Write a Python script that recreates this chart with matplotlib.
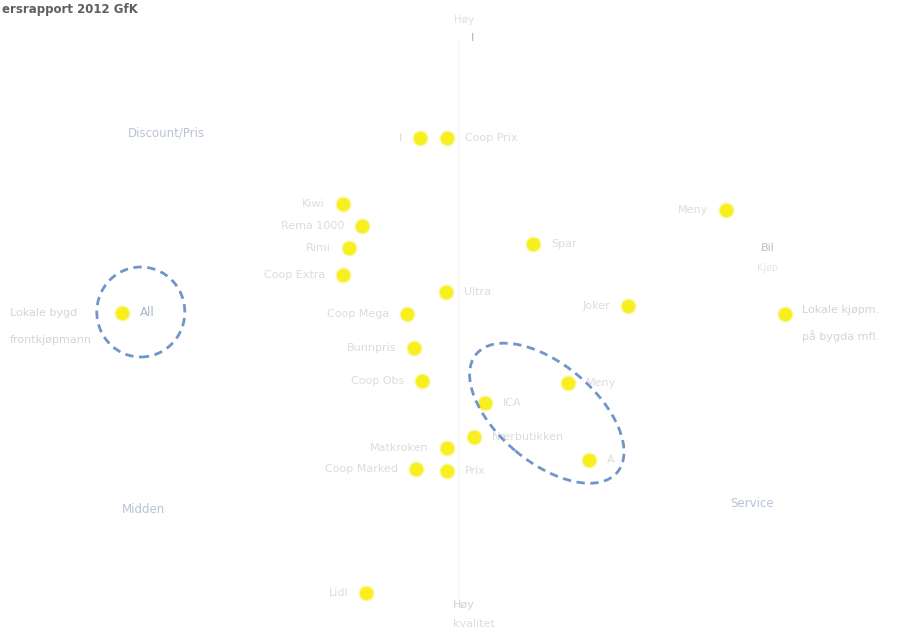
import matplotlib
matplotlib.use("Agg")
import matplotlib.pyplot as plt
from matplotlib.patches import Ellipse

# Perceptual map values (arbitrary units)
x_vals = [-0.95, -0.28, -2.88, -2.40, -2.73, -2.88, 6.70, 1.88, -0.30, -1.28,
          -8.40, 4.25, 8.18, -1.10, -0.90, 2.75, 0.68, 0.40, -0.28, -1.05,
          -0.28, 3.28, -2.30]
y_vals = [4.55, 4.55, 2.90, 2.35, 1.80, 1.13, 2.75, 1.90, 0.70, 0.15,
          0.18, 0.35, 0.15, -0.70, -1.53, -1.58, -2.08, -2.93, -3.20, -3.73,
          -3.78, -3.50, -6.83]
point_labels = ["I", "Coop Prix", "Kiwi", "Rema 1000", "Rimi", "Coop Extra",
                "Meny", "Spar", "Ultra", "Coop Mega", "All", "Joker", "Lokale kjøpmenn",
                "Bunnpris", "Coop Obs", "Meny", "ICA", "Nærbutikken", "Matkroken",
                "Coop Marked", "Prix", "A", "Lidl"]
label_side = ["l", "r", "l", "l", "l", "l", "l", "r", "r", "l",
              "r", "l", "r", "l", "l", "r", "r", "r", "l", "l",
              "r", "r", "l"]

quadrant_labels = ["Discount/Pris", "Midden", "Service"]
quadrant_pos = [(-7.3, 4.68), (-7.87, -4.73), (7.35, -4.58)]

fig = plt.figure(figsize=(8.97, 6.32), dpi=100)
ax = fig.add_axes([0, 0, 1, 1])
ax.set_xlim(-11.45, 10.975)
ax.set_ylim(-7.8, 8.0)
ax.axis("off")

# faint vertical axis
ax.plot([0, 0], [7.0, -7.0], color="#f7f7f7", lw=1.0, zorder=0)

ax.scatter(x_vals, y_vals, s=110, color="#f7ef1e", edgecolors="#fbf6a0",
           linewidths=1.0, zorder=3)

for x, y, lab, side in zip(x_vals, y_vals, point_labels, label_side):
    if lab in ("All", "Lokale kjøpmenn"):
        continue
    if side == "l":
        ax.text(x - 0.45, y, lab, ha="right", va="center", fontsize=8,
                color="#dcdcdc", zorder=2)
    else:
        ax.text(x + 0.45, y, lab, ha="left", va="center", fontsize=8,
                color="#dcdcdc", zorder=2)

# special labels
ax.text(-7.95, 0.18, "All", ha="left", va="center", fontsize=8.5, color="#a9b4c8")
ax.text(-11.2, 0.18, "Lokale bygd", ha="left", va="center", fontsize=8, color="#d4d4d4")
ax.text(-11.2, -0.5, "frontkjøpmann", ha="left", va="center", fontsize=8, color="#d4d4d4")
ax.text(8.6, 0.25, "Lokale kjøpm.", ha="left", va="center", fontsize=8, color="#d4d4d4")
ax.text(8.6, -0.4, "på bygda mfl.", ha="left", va="center", fontsize=8, color="#d4d4d4")
ax.text(7.75, 1.8, "Bil", ha="center", va="center", fontsize=8, color="#bdbdbd")
ax.text(7.75, 1.3, "Kjøp", ha="center", va="center", fontsize=7, color="#e6e6e6")

for lab, (qx, qy) in zip(quadrant_labels, quadrant_pos):
    ax.text(qx, qy, lab, ha="center", va="center", fontsize=8.5, color="#b9c2d8")

# axis end labels
ax.text(0.15, 7.5, "Høy", ha="center", va="center", fontsize=7.5, color="#e0e0e0")
ax.text(0.35, 7.05, "I", ha="center", va="center", fontsize=8, color="#b0b0b0")
ax.text(0.15, -7.12, "Høy", ha="center", va="center", fontsize=8, color="#cfcfcf")
ax.text(0.4, -7.6, "kvalitet", ha="center", va="center", fontsize=8, color="#dcdcdc")

# title (as visible at the left edge)
fig.text(0.002, 0.985, "ersrapport 2012 GfK", ha="left", va="center",
         fontsize=8.5, fontweight="bold", color="#5e5e5e")

# dashed highlight ellipses
circ = Ellipse((-7.93, 0.2), width=2.2, height=2.25, fill=False,
               edgecolor="#6f95c9", lw=2.0, ls=(0, (3, 2)), zorder=4)
ax.add_patch(circ)
ell = Ellipse((2.22, -2.33), width=4.6, height=2.45, angle=-40, fill=False,
              edgecolor="#6f95c9", lw=2.0, ls=(0, (3, 2)), zorder=4)
ax.add_patch(ell)

fig.savefig("out.png", dpi=100)
